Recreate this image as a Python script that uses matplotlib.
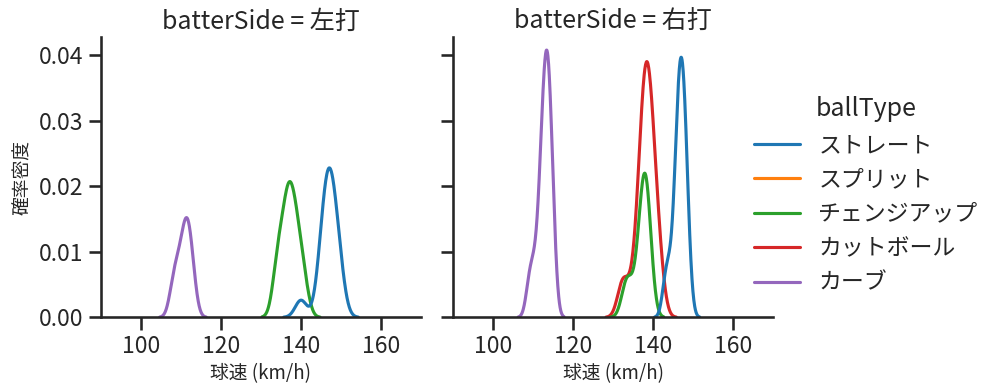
import pandas as pd
import matplotlib
matplotlib.use("Agg")
import matplotlib.pyplot as plt
import seaborn as sns

# pitch speeds (km/h) per batter side and pitch type
left_straight = [140, 145, 145, 146, 146, 147, 147, 147, 147, 148, 148, 149, 149, 150]
left_change = [134, 134, 135, 136, 136, 137, 137, 137, 138, 138, 139, 139, 140, 141]
left_curve = [108, 109, 110, 111, 111, 112, 112, 113]
left_split = [136]

right_straight = [143, 144, 145, 146, 146, 146, 146, 147, 147, 147, 147, 147,
                  148, 148, 148, 148, 149]
right_change = [133, 134, 136, 137, 137, 138, 138, 138, 138, 139, 139]
right_cutter = [132, 133, 135, 136, 137, 137, 137, 137, 138, 138, 138, 138, 138,
                139, 139, 139, 139, 139, 140, 140, 140, 141, 141, 142]
right_curve = [109, 110, 111, 112, 112, 112, 113, 113, 113, 113, 113, 114, 114,
               114, 114, 114, 115, 115]

side_order = ["左打", "右打"]
type_order = ["ストレート", "スプリット", "チェンジアップ", "カットボール", "カーブ"]

groups = [
    ("左打", "ストレート", left_straight),
    ("左打", "スプリット", left_split),
    ("左打", "チェンジアップ", left_change),
    ("左打", "カーブ", left_curve),
    ("右打", "ストレート", right_straight),
    ("右打", "チェンジアップ", right_change),
    ("右打", "カットボール", right_cutter),
    ("右打", "カーブ", right_curve),
]

rows = []
for side, kind, speeds in groups:
    for v in speeds:
        rows.append({"batterSide": side, "ballType": kind, "speed": v})
df = pd.DataFrame(rows)

sns.set_theme(style="ticks", context="talk")
plt.rcParams["font.family"] = ["Noto Sans CJK JP", "DejaVu Sans"]

# kde per pitch type, one panel per batter side
g = sns.displot(
    data=df, x="speed", hue="ballType", col="batterSide", kind="kde",
    hue_order=type_order, col_order=side_order, palette="tab10",
    height=3.9, aspect=1.0, warn_singular=False,
)
g.set(xlim=(90, 170))
g.set_axis_labels("球速 (km/h)", "確率密度", fontsize=13.5)

fig = g.figure
fig.set_size_inches(9.99, 3.91)
fig.subplots_adjust(left=0.101, right=0.774, bottom=0.1885, top=0.906, wspace=0.1)
fig.savefig("out.png", dpi=100)
